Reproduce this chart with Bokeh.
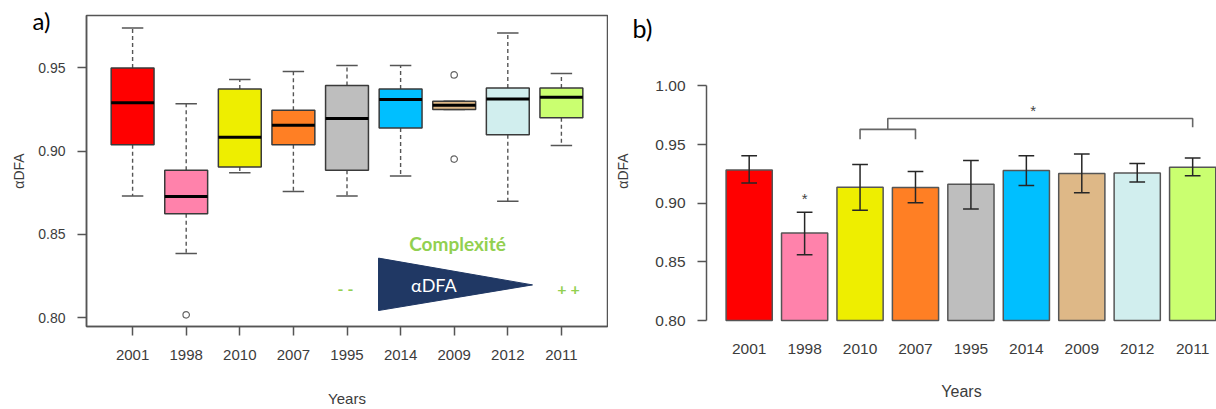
from bokeh.plotting import figure
from bokeh.layouts import row
from bokeh.models import Range1d, FixedTicker, Label, ColumnDataSource, Title
from bokeh.embed import file_html
from bokeh.resources import INLINE

# ---------------- data ----------------
years = ["2001", "1998", "2010", "2007", "1995", "2014", "2009", "2012", "2011"]
colors = ["#FF0000", "#FF82AB", "#EEEE00", "#FF7F24", "#BEBEBE",
          "#00BFFF", "#DEB887", "#D1EEEE", "#CAFF70"]

# panel a) boxplot statistics
box_low = [0.873, 0.8385, 0.887, 0.8758, 0.873, 0.8851, 0.925, 0.8698, 0.9034]
box_q1 = [0.9038, 0.8623, 0.8905, 0.9038, 0.8885, 0.9139, 0.925, 0.9099, 0.9200]
box_med = [0.929, 0.8728, 0.9083, 0.9155, 0.9196, 0.931, 0.9275, 0.9313, 0.9323]
box_q3 = [0.950, 0.8885, 0.9373, 0.9246, 0.9395, 0.9373, 0.930, 0.9379, 0.9379]
box_high = [0.974, 0.9284, 0.943, 0.9478, 0.9514, 0.9514, 0.930, 0.971, 0.9466]
out_year = ["1998", "2009", "2009"]
out_val = [0.8016, 0.9458, 0.8952]

# panel b) means and error bars
bar_mean = [0.9282, 0.8746, 0.9136, 0.9133, 0.9161, 0.9279, 0.9254, 0.9257, 0.9307]
bar_lo = [0.9173, 0.8561, 0.894, 0.9004, 0.8951, 0.915, 0.9088, 0.9181, 0.9234]
bar_hi = [0.9405, 0.8923, 0.933, 0.9271, 0.9363, 0.9405, 0.9419, 0.9338, 0.9386]

y_ticks_a = [0.80, 0.85, 0.90, 0.95]
y_ticks_b = [0.80, 0.85, 0.90, 0.95, 1.00]

TXT = "#3c3c3c"
FONT = "Liberation Sans"

# ---------------- panel a ----------------
pa = figure(width=608, height=409, x_range=Range1d(0.14, 9.86), y_range=Range1d(0.7946, 0.9815),
            output_backend="svg", toolbar_location=None,
            min_border_left=86, min_border_right=1, min_border_top=15, min_border_bottom=80)
pa.xgrid.visible = False
pa.ygrid.visible = False
pa.outline_line_color = "#555555"
pa.outline_line_width = 1.5

xpos = [i + 1 for i in range(len(years))]
src = ColumnDataSource(dict(x=xpos, low=box_low, q1=box_q1, med=box_med, q3=box_q3,
                            high=box_high, color=colors,
                            cl=[x - 0.2 for x in xpos], cr=[x + 0.2 for x in xpos],
                            ml=[x - 0.4 for x in xpos], mr=[x + 0.4 for x in xpos]))
pa.segment(x0="x", y0="q3", x1="x", y1="high", source=src, line_color="#555555",
           line_width=1.4, line_dash="4 3")
pa.segment(x0="x", y0="q1", x1="x", y1="low", source=src, line_color="#555555",
           line_width=1.4, line_dash="4 3")
pa.segment(x0="cl", y0="high", x1="cr", y1="high", source=src, line_color="#555555", line_width=1.5)
pa.segment(x0="cl", y0="low", x1="cr", y1="low", source=src, line_color="#555555", line_width=1.5)
pa.vbar(x="x", bottom="q1", top="q3", width=0.8, source=src, fill_color="color",
        line_color="#3a3a3a", line_width=1.5)
pa.segment(x0="ml", y0="med", x1="mr", y1="med", source=src, line_color="black", line_width=3)
pa.scatter(x=[years.index(y) + 1 for y in out_year], y=out_val, size=6.5, marker="circle",
           fill_color="white", line_color="#666666", line_width=1.2)

pa.xaxis.ticker = FixedTicker(ticks=xpos)
pa.xaxis.major_label_overrides = {x: y for x, y in zip(xpos, years)}
pa.yaxis.ticker = FixedTicker(ticks=y_ticks_a)
pa.yaxis.major_label_overrides = {t: "%.2f" % t for t in y_ticks_a}
for ax in (pa.xaxis[0], pa.yaxis[0]):
    ax.axis_line_color = "#555555"
    ax.axis_line_width = 1.5
    ax.major_tick_line_color = "#555555"
    ax.major_tick_line_width = 1.5
    ax.major_tick_out = 9
    ax.major_tick_in = 0
    ax.minor_tick_line_color = None
    ax.major_label_text_font = FONT
    ax.major_label_text_color = TXT
    ax.axis_label_text_font = FONT
    ax.axis_label_text_color = TXT
    ax.axis_label_text_font_style = "normal"
pa.xaxis.major_label_text_font_size = "15px"
pa.yaxis.major_label_text_font_size = "14px"
pa.xaxis.major_label_standoff = 14
pa.yaxis.major_label_standoff = 12
pa.xaxis.axis_label = "Years"
pa.xaxis.axis_label_text_font_size = "15px"
pa.xaxis.axis_label_standoff = 27
pa.yaxis.axis_label = "αDFA"
pa.yaxis.axis_label_text_font_size = "14px"
pa.yaxis.axis_label_standoff = 8

# complexity annotation
tri_x = [5.588, 8.461, 5.588]
tri_y = [0.8357, 0.8196, 0.8042]
pa.patch(tri_x, tri_y, fill_color="#203864", line_color="#203864")
GREEN = "#92D050"
pa.add_layout(Label(x=6.62, y=0.8194, text="αDFA", text_color="white", text_font="Lato",
                    text_font_size="18px", text_align="center", text_baseline="middle"))
pa.add_layout(Label(x=7.062, y=0.8446, text="Complexité", text_color=GREEN, text_font="Lato",
                    text_font_size="19px", text_font_style="bold", text_align="center",
                    text_baseline="middle"))
pa.add_layout(Label(x=4.972, y=0.8175, text="- -", text_color=GREEN, text_font="Lato",
                    text_font_size="16px", text_font_style="bold", text_align="center",
                    text_baseline="middle"))
pa.add_layout(Label(x=9.133, y=0.8175, text="+ +", text_color=GREEN, text_font="Lato",
                    text_font_size="16px", text_font_style="bold", text_align="center",
                    text_baseline="middle"))
# panel letter: a title in the top border, pulled down beside the frame
pa.add_layout(Title(text="a)", align="left", vertical_align="bottom", offset=-54, standoff=-38,
                    text_font="Lato", text_font_size="24px", text_font_style="normal",
                    text_color="black"), "above")

# ---------------- panel b ----------------
pb = figure(width=608, height=409, x_range=Range1d(-0.224, 10.816), y_range=Range1d(0.79494, 1.05992),
            output_backend="svg", toolbar_location=None,
            min_border_left=98, min_border_right=0, min_border_top=15, min_border_bottom=80)
pb.xgrid.visible = False
pb.ygrid.visible = False
pb.outline_line_color = None

bx = [0.7 + 1.2 * i for i in range(len(years))]
bsrc = ColumnDataSource(dict(x=bx, top=bar_mean, lo=bar_lo, hi=bar_hi, color=colors,
                             cl=[x - 0.17 for x in bx], cr=[x + 0.17 for x in bx]))
pb.vbar(x="x", bottom=0.80, top="top", width=1.0, source=bsrc, fill_color="color",
        line_color="#555555", line_width=1.5)
pb.segment(x0="x", y0="lo", x1="x", y1="hi", source=bsrc, line_color="#262626", line_width=1.5)
pb.segment(x0="cl", y0="lo", x1="cr", y1="lo", source=bsrc, line_color="#262626", line_width=1.5)
pb.segment(x0="cl", y0="hi", x1="cr", y1="hi", source=bsrc, line_color="#262626", line_width=1.5)

i98, i10, i07, i11 = years.index("1998"), years.index("2010"), years.index("2007"), years.index("2011")
mid = (bx[i10] + bx[i07]) / 2
br_y_small_top, br_y_small_drop = 0.9629, 0.9544
br_y_big_top, br_y_big_drop = 0.9721, 0.9646
pb.multi_line(xs=[[bx[i10], bx[i10], bx[i07], bx[i07]], [mid, mid, bx[i11], bx[i11]]],
              ys=[[br_y_small_drop, br_y_small_top, br_y_small_top, br_y_small_drop],
                  [br_y_small_top, br_y_big_top, br_y_big_top, br_y_big_drop]],
              line_color="#666666", line_width=1.6)
pb.add_layout(Label(x=bx[i98], y=0.9066, text="*", text_color="#444444", text_font=FONT,
                    text_font_size="15px", text_align="center", text_baseline="middle",
                    y_offset=-3))
pb.add_layout(Label(x=(mid + bx[i11]) / 2 - 0.15, y=0.9817, text="*", text_color="#444444",
                    text_font=FONT, text_font_size="15px", text_align="center",
                    text_baseline="middle", y_offset=-3))
pb.add_layout(Title(text="b)", align="left", vertical_align="bottom", offset=-74, standoff=-54,
                    text_font="Lato", text_font_size="25px", text_font_style="normal",
                    text_color="black"), "above")

pb.xaxis.ticker = FixedTicker(ticks=bx)
pb.xaxis.major_label_overrides = {x: y for x, y in zip(bx, years)}
pb.xaxis.axis_line_color = None
pb.xaxis.major_tick_line_color = None
pb.xaxis.major_tick_out = 0
pb.xaxis.minor_tick_line_color = None
pb.xaxis.major_label_standoff = 17
pb.yaxis.ticker = FixedTicker(ticks=y_ticks_b)
pb.yaxis.major_label_overrides = {t: "%.2f" % t for t in y_ticks_b}
pb.yaxis.bounds = (0.80, 1.00)
pb.yaxis.axis_line_color = "#555555"
pb.yaxis.axis_line_width = 1.5
pb.yaxis.major_tick_line_color = "#555555"
pb.yaxis.major_tick_line_width = 1.5
pb.yaxis.major_tick_out = 9
pb.yaxis.major_tick_in = 0
pb.yaxis.minor_tick_line_color = None
pb.yaxis.major_label_standoff = 12
for ax in (pb.xaxis[0], pb.yaxis[0]):
    ax.major_label_text_font = FONT
    ax.major_label_text_color = TXT
    ax.major_label_text_font_size = "15.5px"
    ax.axis_label_text_font = FONT
    ax.axis_label_text_color = TXT
    ax.axis_label_text_font_style = "normal"
pb.xaxis.axis_label = "Years"
pb.xaxis.axis_label_text_font_size = "16px"
pb.xaxis.axis_label_standoff = 26
pb.yaxis.axis_label = "αDFA"
pb.yaxis.axis_label_text_font_size = "14px"
pb.yaxis.axis_label_standoff = 21

layout = row(pa, pb, spacing=0)
open("out.html", "w").write(file_html(layout, INLINE))
